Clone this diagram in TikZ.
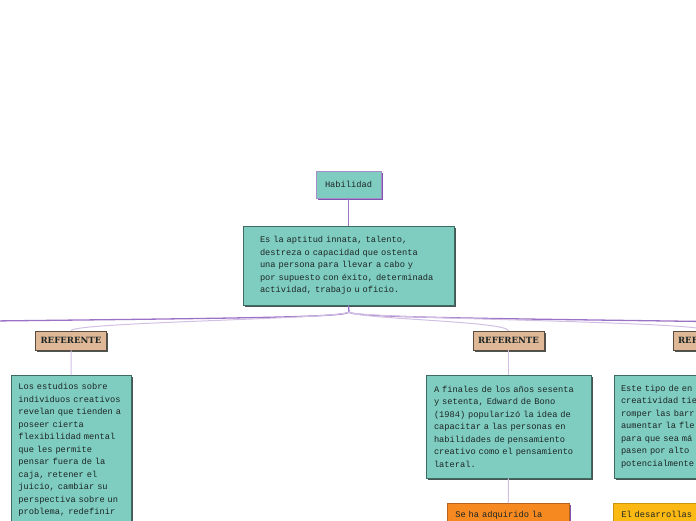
\documentclass[tikz,border=0pt]{standalone}
\usepackage{fontspec}
\newfontfamily\mapfont{Liberation Mono}
\newfontfamily\tagfont{DejaVu Serif}
\usetikzlibrary{shadows,positioning}
\definecolor{topicfill}{HTML}{7FCDC1}
\definecolor{topicedge}{HTML}{3E6A64}
\definecolor{shadowgray}{HTML}{4B5654}
\definecolor{habedge}{HTML}{A88DCB}
\definecolor{habshadow}{HTML}{7B55AE}
\definecolor{tagfill}{HTML}{DFB898}
\definecolor{tagedge}{HTML}{5B4A3E}
\definecolor{orangefill}{HTML}{F68A20}
\definecolor{orangeedge}{HTML}{B8621A}
\definecolor{yellowfill}{HTML}{FDB913}
\definecolor{yellowedge}{HTML}{C99410}
\definecolor{branchpurple}{HTML}{9C72C6}
\definecolor{twiglilac}{HTML}{D2BFE4}
\definecolor{ink}{HTML}{1D2624}
\tikzset{x=1pt,y=-1pt,
  shade/.style={drop shadow={fill=#1,opacity=1,shadow xshift=1.6pt,shadow yshift=-1.6pt}},
  topic/.style={draw=topicedge,fill=topicfill,line width=.8pt,text=ink,align=left,
    font=\mapfont\fontsize{8.7}{12.5}\selectfont},
  tagbox/.style={draw=tagedge,fill=tagfill,line width=.8pt,text=ink,inner sep=0pt,
    minimum width=71pt,minimum height=19pt,font=\tagfont\bfseries\fontsize{8.6}{9}\selectfont,shade=shadowgray},
  branch/.style={draw=branchpurple,line width=1.3pt},
  twig/.style={draw=twiglilac,line width=1pt}}
\begin{document}
\begin{tikzpicture}
\useasboundingbox(0,0)rectangle(696,520);
\clip(0,0)rectangle(696,520);
% central topic
\node[topic,draw=habedge,shade=habshadow,align=center,inner sep=0pt,minimum width=65pt,minimum height=27pt](hab)at(348.5,184.5){Habilidad};
\node[topic,shade=shadowgray,text width=177pt,inner xsep=17pt,minimum height=79pt](desc)at(348.5,265.5){%
Es la aptitud innata, talento,\\destreza o capacidad que ostenta\\una persona para llevar a cabo y\\por supuesto con éxito, determinada\\actividad, trabajo u oficio.};
\draw[branchpurple,line width=1.5pt](hab)--(desc);
% branches
\coordinate(fork)at(349,312);
\coordinate(offleft)at(-8,321);
\coordinate(offright)at(704,321.5);
\node[tagbox](ref1)at(71,340.5){REFERENTE};
\node[tagbox](ref2)at(508.5,340.5){REFERENTE};
\node[tagbox](ref3)at(708.5,340.5){REFERENTE};
\draw[branch](desc.south)--(fork);
\draw[branch](fork)..controls(346,317)and(260,318)..(offleft);
\draw[branch](fork)..controls(352,317)and(450,318)..(offright);
\draw[twig](fork)..controls(342,319)and(76,322)..(ref1.north);
\draw[twig](fork)..controls(356,319)and(505,321)..(ref2.north);
\draw[twig](fork)..controls(356,319)and(700,321)..(ref3.north);
% details
\node[topic,shade=shadowgray,anchor=north west,text width=106pt,inner xsep=7pt,inner ysep=8pt](ref1txt)at(11,375){%
Los estudios sobre\\individuos creativos\\revelan que tienden a\\poseer cierta\\flexibilidad mental\\que les permite\\pensar fuera de la\\caja, retener el\\juicio, cambiar su\\perspectiva sobre un\\problema, redefinir};
\node[topic,shade=shadowgray,text width=149pt,inner xsep=8pt,minimum height=103pt](ref2txt)at(508.5,426.5){%
A finales de los años sesenta\\y setenta, Edward de Bono\\(1984) popularizó la idea de\\capacitar a las personas en\\habilidades de pensamiento\\creativo como el pensamiento\\lateral.};
\node[topic,shade=shadowgray,text width=175pt,inner xsep=7pt,minimum height=103pt](ref3txt)at(708.5,426.5){%
Este tipo de en\\creatividad tie\\romper las barr\\aumentar la fle\\para que sea má\\pasen por alto \\potencialmente};
\node[topic,draw=orangeedge,fill=orangefill,shade=habshadow,anchor=north west,text width=106pt,inner xsep=8pt,inner ysep=8pt](ref2more)at(447,503){Se ha adquirido la\\};
\node[topic,draw=yellowedge,fill=yellowfill,shade=shadowgray,anchor=north west,text width=175pt,inner xsep=8pt,inner ysep=8pt](ref3more)at(613,503){El desarrollas\\};
\draw[twig](ref1)--(ref1txt);
\draw[twig](ref2)--(ref2txt);
\draw[twig](ref3)--(ref3txt);
\draw[twig](ref2txt)--(ref2more);
\draw[twig](ref3txt)--(ref3more);
\end{tikzpicture}
\end{document}
